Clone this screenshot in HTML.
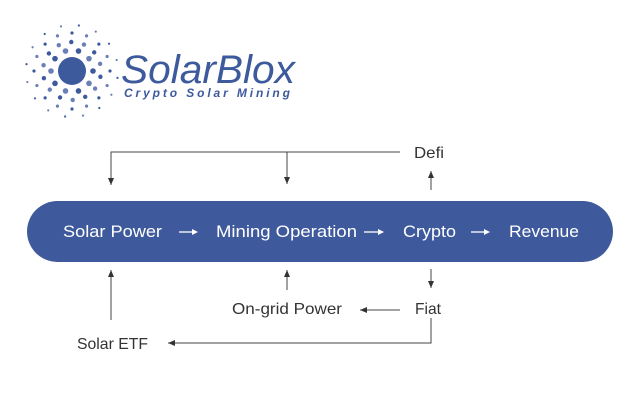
<!DOCTYPE html>
<html><head><meta charset="utf-8"><style>
html,body{margin:0;padding:0;background:#fff;}
body{width:640px;height:416px;position:relative;overflow:hidden;font-family:"Liberation Sans",sans-serif;}
</style></head><body>
<svg id="s" width="640" height="416" viewBox="0 0 640 416" xmlns="http://www.w3.org/2000/svg" style="position:absolute;left:0;top:0">
<defs><marker id="a" markerWidth="8" markerHeight="8" refX="7" refY="4" orient="auto" markerUnits="userSpaceOnUse"><path d="M0,1 L7,4 L0,7 Z" fill="#333"/></marker></defs>
<g id="sun" fill="#3d5a9c"><circle cx="72" cy="71" r="14"/></g>
<text x="121" y="83" font-family="Liberation Sans,sans-serif" font-size="40" fill="#3d5a9c" font-style="italic" textLength="174" lengthAdjust="spacingAndGlyphs">SolarBlox</text>
<text x="124" y="97" font-family="Liberation Sans,sans-serif" font-size="12" font-weight="bold" font-style="italic" fill="#3d5a9c" textLength="166" lengthAdjust="spacing">Crypto Solar Mining</text>
<rect x="27" y="201" width="586" height="61" rx="30.5" fill="#3f5a9c"/>
<g font-size="17" fill="#fff">
<text x="63" y="237" textLength="99" lengthAdjust="spacingAndGlyphs">Solar Power</text>
<text x="216" y="237" textLength="141" lengthAdjust="spacingAndGlyphs">Mining Operation</text>
<text x="403" y="237" textLength="53" lengthAdjust="spacingAndGlyphs">Crypto</text>
<text x="509" y="237" textLength="70" lengthAdjust="spacingAndGlyphs">Revenue</text>
</g>
<g stroke="#fff" stroke-width="1.3" fill="#fff">
<line x1="179" y1="232" x2="192" y2="232"/><path d="M192,229 L198,232 L192,235Z" stroke="none"/>
<line x1="364" y1="232" x2="378" y2="232"/><path d="M378,229 L384,232 L378,235Z" stroke="none"/>
<line x1="471" y1="232" x2="484" y2="232"/><path d="M484,229 L490,232 L484,235Z" stroke="none"/>
</g>
<g stroke="#444" stroke-width="1" fill="none">
<polyline points="400,152 111,152 111,185" marker-end="url(#a)"/>
<line x1="287" y1="152" x2="287" y2="184" marker-end="url(#a)"/>
<line x1="431" y1="190" x2="431" y2="171" marker-end="url(#a)"/>
<line x1="111" y1="320" x2="111" y2="270" marker-end="url(#a)"/>
<line x1="287" y1="290" x2="287" y2="270" marker-end="url(#a)"/>
<line x1="431" y1="269" x2="431" y2="288" marker-end="url(#a)"/>
<line x1="400" y1="310" x2="360" y2="310" marker-end="url(#a)"/>
<polyline points="431,318 431,343 168,343" marker-end="url(#a)"/>
</g>
<g font-size="16" fill="#333">
<text x="414" y="158" textLength="30" lengthAdjust="spacingAndGlyphs">Defi</text>
<text x="415" y="314" textLength="26" lengthAdjust="spacingAndGlyphs">Fiat</text>
<text x="232" y="314" textLength="110" lengthAdjust="spacingAndGlyphs">On-grid Power</text>
<text x="77" y="349" textLength="71" lengthAdjust="spacingAndGlyphs">Solar ETF</text>
</g>
</svg>
<script>
var g=document.getElementById('sun');
var rings=[[21,10,2.8,0],[29,14,2.2,0.2],[38,16,1.6,0],[46,16,1.1,0.15]];
rings.forEach(function(r){for(var i=0;i<r[1];i++){var t=2*Math.PI*i/r[1]+r[3];
var c=document.createElementNS('http://www.w3.org/2000/svg','circle');
c.setAttribute('cx',72+r[0]*Math.cos(t));c.setAttribute('cy',71+r[0]*Math.sin(t));c.setAttribute('r',r[2]);
c.setAttribute('fill',i%2?'#6a7fb5':'#3d5a9c');g.appendChild(c);}});
</script>
</body></html>
